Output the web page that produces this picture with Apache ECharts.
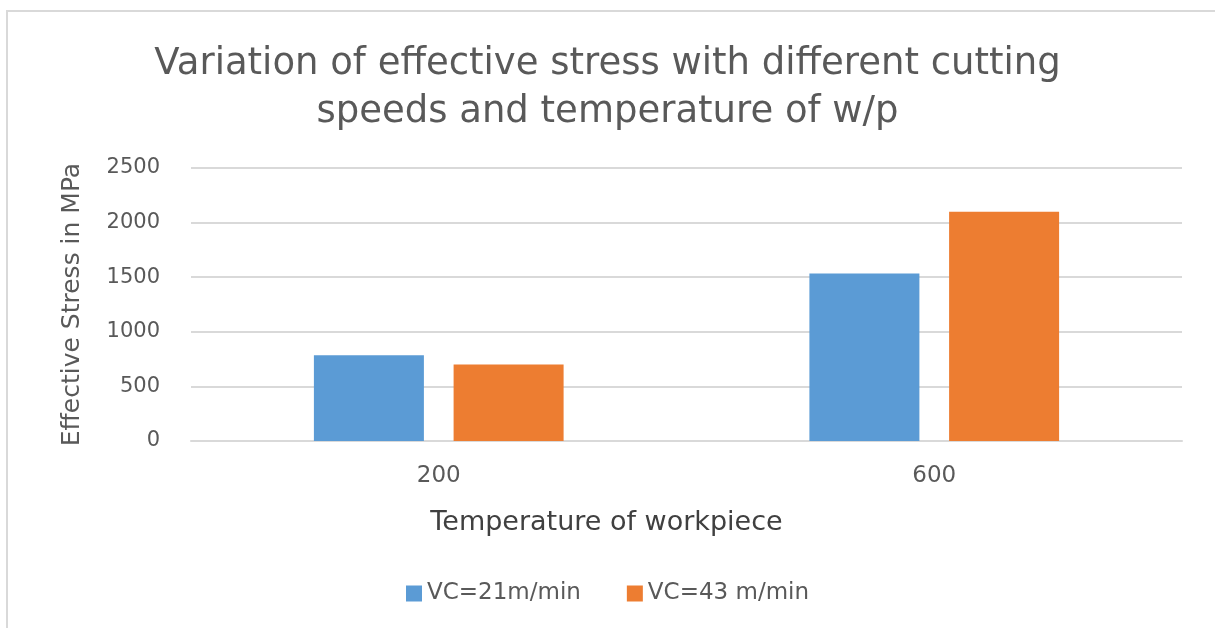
<!DOCTYPE html>
<html>
<head>
<meta charset="utf-8">
<script src="https://cdn.jsdelivr.net/npm/echarts@6/dist/echarts.min.js"></script>
<style>
  html, body { margin: 0; padding: 0; background: #ffffff; }
  #chart { width: 1215px; height: 628px; }
</style>
</head>
<body>
<div id="chart"></div>
<script>
// Workpiece temperatures (categories) and effective stress (MPa) per cutting speed
const temperatures = ['200', '600'];
const seriesNames = ['VC=21m/min', 'VC=43 m/min'];
const stressVc21 = [785, 1535];
const stressVc43 = [700, 2100];
const yTicks = { min: 0, max: 2500, interval: 500 };

const FONT = '"DejaVu Sans", "Open Sans", sans-serif';
const chart = echarts.init(document.getElementById('chart'), null, { renderer: 'canvas' });

chart.setOption({
  backgroundColor: '#ffffff',
  animation: false,
  graphic: [{
    type: 'rect',
    shape: { x: 7, y: 11, width: 1230, height: 640 },
    style: { fill: 'none', stroke: '#d9d9d9', lineWidth: 2 },
    silent: true
  }],
  title: {
    text: 'Variation of effective stress with different cutting\nspeeds and temperature of w/p',
    left: 'center',
    top: 35,
    textStyle: {
      fontFamily: FONT,
      fontSize: 37,
      fontWeight: 'normal',
      color: '#595959',
      lineHeight: 48
    }
  },
  legend: {
    bottom: 18,
    left: 'center',
    itemWidth: 16,
    itemHeight: 16,
    itemGap: 46,
    icon: 'rect',
    textStyle: { fontFamily: FONT, fontSize: 23, color: '#595959' },
    data: seriesNames
  },
  grid: { left: 191, right: 33, top: 168, bottom: 187, containLabel: false },
  xAxis: {
    type: 'category',
    data: temperatures,
    name: 'Temperature of workpiece',
    nameLocation: 'middle',
    nameGap: 68,
    nameTextStyle: {
      fontFamily: FONT, fontSize: 27, color: '#404040',
      padding: [0, 160, 0, 0]
    },
    axisLine: { lineStyle: { color: '#d9d9d9', width: 2 } },
    axisTick: { show: false },
    axisLabel: { fontFamily: FONT, fontSize: 23, color: '#595959', margin: 24 }
  },
  yAxis: {
    type: 'value',
    min: yTicks.min,
    max: yTicks.max,
    interval: yTicks.interval,
    name: 'Effective Stress in MPa',
    nameLocation: 'middle',
    nameGap: 106,
    nameRotate: 90,
    nameTextStyle: { fontFamily: FONT, fontSize: 25, color: '#595959' },
    axisLine: { show: false },
    axisTick: { show: false },
    axisLabel: {
      fontFamily: FONT, fontSize: 21, color: '#595959', margin: 31,
      formatter: (v) => String(v)
    },
    splitLine: { lineStyle: { color: '#d9d9d9', width: 2 } }
  },
  series: [
    {
      name: seriesNames[0],
      type: 'bar',
      data: stressVc21,
      barWidth: 110,
      barGap: '27%',
      itemStyle: { color: '#5b9bd5' }
    },
    {
      name: seriesNames[1],
      type: 'bar',
      data: stressVc43,
      barWidth: 110,
      itemStyle: { color: '#ed7d31' }
    }
  ]
});
</script>
</body>
</html>
